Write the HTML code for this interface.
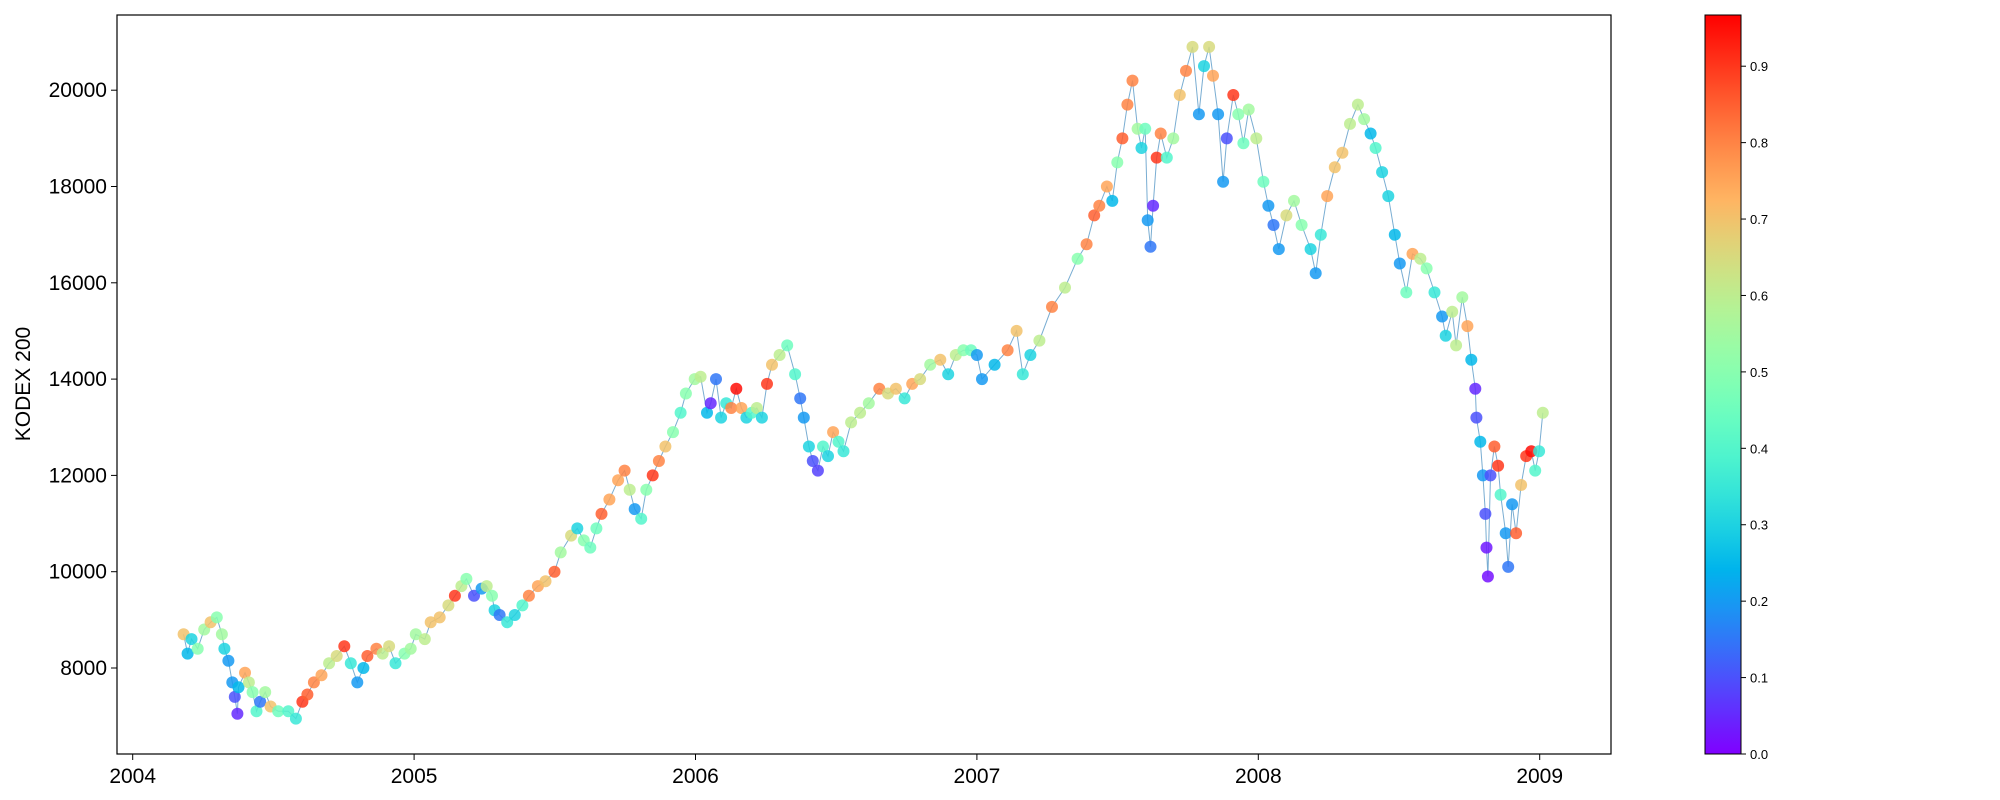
<!DOCTYPE html>
<html><head><meta charset="utf-8"><style>
body{margin:0;background:#fff;}
svg{display:block;font-family:"Liberation Sans",sans-serif;}
</style></head><body>
<svg id="chart" width="2000" height="800" viewBox="0 0 2000 800">
<defs><linearGradient id="cbg" x1="0" y1="1" x2="0" y2="0"></linearGradient></defs>
<g id="axes"></g>
<g id="cbar"></g>
<text transform="translate(30,384) rotate(-90)" text-anchor="middle" font-size="21">KODEX 200</text>
</svg>
<script>
const dates=[2004.181,2004.195,2004.209,2004.231,2004.254,2004.277,2004.299,2004.317,2004.326,2004.340,2004.354,2004.363,2004.372,2004.376,2004.399,2004.413,2004.426,2004.440,2004.453,2004.471,2004.490,2004.517,2004.553,2004.580,2004.603,2004.621,2004.644,2004.671,2004.698,2004.725,2004.752,2004.775,2004.798,2004.820,2004.834,2004.866,2004.888,2004.911,2004.934,2004.966,2004.988,2005.006,2005.038,
2005.059,2005.091,2005.122,2005.145,2005.168,2005.186,2005.213,2005.240,2005.258,2005.277,2005.286,2005.304,2005.331,2005.358,2005.385,2005.408,2005.440,2005.467,2005.499,2005.521,2005.558,2005.580,2005.603,2005.626,2005.648,2005.666,2005.694,2005.725,2005.748,2005.766,2005.784,2005.807,2005.825,2005.848,2005.870,2005.893,2005.920,2005.947,2005.966,2005.997,
2006.018,2006.041,2006.054,2006.073,2006.091,2006.109,2006.127,2006.145,2006.163,2006.181,2006.200,2006.218,2006.236,2006.254,2006.272,2006.299,2006.326,2006.354,2006.372,2006.385,2006.403,2006.417,2006.435,2006.453,2006.471,2006.489,2006.508,2006.526,2006.553,2006.585,2006.616,2006.653,2006.684,2006.712,2006.743,2006.770,2006.798,2006.834,2006.870,2006.898,2006.925,2006.952,2006.979,
2007.000,2007.018,2007.063,2007.109,2007.141,2007.163,2007.190,2007.222,2007.267,2007.313,2007.358,2007.390,2007.417,2007.435,2007.462,2007.481,2007.499,2007.517,2007.535,2007.553,2007.571,2007.585,2007.598,2007.607,2007.617,2007.626,2007.639,2007.653,2007.675,2007.698,2007.721,2007.743,2007.766,2007.789,2007.807,2007.825,2007.839,2007.857,2007.875,2007.888,2007.911,2007.929,2007.947,2007.966,2007.993,
2008.018,2008.036,2008.054,2008.073,2008.100,2008.127,2008.154,2008.186,2008.204,2008.222,2008.245,2008.272,2008.299,2008.326,2008.354,2008.376,2008.399,2008.417,2008.440,2008.462,2008.485,2008.503,2008.526,2008.548,2008.576,2008.598,2008.626,2008.653,2008.666,2008.689,2008.703,2008.725,2008.743,2008.757,2008.771,2008.775,2008.789,2008.798,2008.807,2008.811,2008.816,2008.825,2008.839,2008.852,2008.861,2008.879,2008.888,2008.902,2008.916,2008.934,2008.952,2008.970,2008.984,2008.998,2009.011];
const prices=[8700,8300,8600,8400,8800,8950,9050,8700,8400,8150,7700,7400,7050,7600,7900,7700,7500,7100,7300,7500,7200,7100,7100,6950,7300,7450,7700,7850,8100,8250,8450,8100,7700,8000,8250,8400,8300,8450,8100,8300,8400,8700,8600,
8950,9050,9300,9500,9700,9850,9500,9650,9700,9500,9200,9100,8950,9100,9300,9500,9700,9800,10000,10400,10750,10900,10650,10500,10900,11200,11500,11900,12100,11700,11300,11100,11700,12000,12300,12600,12900,13300,13700,14000,
14050,13300,13500,14000,13200,13500,13400,13800,13400,13200,13300,13400,13200,13900,14300,14500,14700,14100,13600,13200,12600,12300,12100,12600,12400,12900,12700,12500,13100,13300,13500,13800,13700,13800,13600,13900,14000,14300,14400,14100,14500,14600,14600,
14500,14000,14300,14600,15000,14100,14500,14800,15500,15900,16500,16800,17400,17600,18000,17700,18500,19000,19700,20200,19200,18800,19200,17300,16750,17600,18600,19100,18600,19000,19900,20400,20900,19500,20500,20900,20300,19500,18100,19000,19900,19500,18900,19600,19000,
18100,17600,17200,16700,17400,17700,17200,16700,16200,17000,17800,18400,18700,19300,19700,19400,19100,18800,18300,17800,17000,16400,15800,16600,16500,16300,15800,15300,14900,15400,14700,15700,15100,14400,13800,13200,12700,12000,11200,10500,9900,12000,12600,12200,11600,10800,10100,11400,10800,11800,12400,12500,12100,12500,13300];
const cvals=[0.7,0.25,0.3,0.5,0.55,0.7,0.5,0.55,0.3,0.2,0.2,0.1,0.05,0.25,0.75,0.6,0.5,0.4,0.15,0.55,0.7,0.45,0.4,0.35,0.9,0.85,0.8,0.75,0.6,0.65,0.9,0.35,0.2,0.25,0.85,0.8,0.6,0.65,0.35,0.5,0.55,0.55,0.6,
0.7,0.7,0.65,0.9,0.6,0.5,0.1,0.2,0.6,0.5,0.3,0.15,0.35,0.3,0.4,0.8,0.75,0.7,0.85,0.55,0.65,0.3,0.5,0.45,0.45,0.85,0.75,0.75,0.8,0.6,0.2,0.4,0.5,0.9,0.8,0.7,0.5,0.4,0.5,0.55,
0.6,0.25,0.05,0.15,0.3,0.35,0.8,0.95,0.75,0.3,0.4,0.6,0.3,0.9,0.7,0.6,0.45,0.4,0.15,0.2,0.3,0.1,0.08,0.4,0.3,0.75,0.4,0.35,0.6,0.6,0.55,0.8,0.65,0.7,0.35,0.75,0.65,0.55,0.7,0.3,0.6,0.5,0.45,
0.2,0.2,0.25,0.8,0.7,0.35,0.3,0.6,0.8,0.6,0.5,0.8,0.85,0.8,0.75,0.25,0.5,0.85,0.8,0.8,0.55,0.3,0.45,0.2,0.15,0.05,0.9,0.8,0.4,0.55,0.7,0.8,0.65,0.2,0.3,0.65,0.75,0.2,0.2,0.1,0.9,0.5,0.45,0.55,0.6,
0.45,0.2,0.15,0.2,0.65,0.55,0.5,0.3,0.2,0.35,0.75,0.7,0.7,0.6,0.6,0.55,0.25,0.4,0.3,0.3,0.25,0.2,0.45,0.75,0.6,0.5,0.35,0.2,0.3,0.6,0.6,0.55,0.75,0.25,0.05,0.1,0.25,0.2,0.1,0.03,0.02,0.1,0.85,0.9,0.4,0.2,0.15,0.2,0.85,0.7,0.9,0.95,0.4,0.35,0.6];
const yTicks=[8000,10000,12000,14000,16000,18000,20000];
const xTicks=[2004,2005,2006,2007,2008,2009];
const cTicks=[0.0,0.1,0.2,0.3,0.4,0.5,0.6,0.7,0.8,0.9];

const NS="http://www.w3.org/2000/svg";
const L=117,R=1611,T=15,B=754;
const xS=yr=>132.7+(yr-2004)*281.4;
const yS=v=>668-(v-8000)*0.04815;
const cMin=0,cMax=0.967;
const cS=v=>754-(v-cMin)/(cMax-cMin)*739;
function rainbow(x){
  const c=t=>Math.round(Math.max(0,Math.min(1,t))*255);
  return `rgb(${c(Math.abs(2*x-0.5))},${c(Math.sin(Math.PI*x))},${c(Math.cos(Math.PI*x/2))})`;
}
function mk(tag,attrs,parent){const e=document.createElementNS(NS,tag);for(const k in attrs)e.setAttribute(k,attrs[k]);parent.appendChild(e);return e;}
const ax=document.getElementById('axes');
let d='';dates.forEach((t,i)=>{d+=(i?'L':'M')+xS(t).toFixed(1)+','+yS(prices[i]).toFixed(1);});
const ln=mk('path',{d:d,fill:'none',stroke:'#1f77b4','stroke-width':1,opacity:0.6},ax);


dates.forEach((t,i)=>{
  const c=mk('circle',{cx:xS(t).toFixed(1),cy:yS(prices[i]).toFixed(1),r:6,fill:rainbow(cvals[i]/cMax),'fill-opacity':0.85},ax);
  
  
});
const fr=mk('rect',{x:L,y:T,width:R-L,height:B-T,fill:'none',stroke:'#000','stroke-width':1.2},ax);


yTicks.forEach(v=>{
  const y=yS(v);
  const tk=mk('line',{x1:L-6,x2:L,y1:y,y2:y,stroke:'#000'},ax);
  
  
  const tx=mk('text',{x:L-10,y:y+7,'text-anchor':'end','font-size':21},ax);tx.textContent=v;
  
  
});
xTicks.forEach(v=>{
  const x=xS(v);
  const tk=mk('line',{x1:x,x2:x,y1:B,y2:B+6,stroke:'#000'},ax);
  
  
  const tx=mk('text',{x:x,y:B+29,'text-anchor':'middle','font-size':21},ax);tx.textContent=v;
  
  
});
const cb=document.getElementById('cbar');
const g=document.getElementById('cbg');
for(let i=0;i<=20;i++){mk('stop',{offset:(i/20),'stop-color':rainbow(i/20)},g);}
const cr=mk('rect',{x:1705,y:15,width:36,height:739,fill:'url(#cbg)',stroke:'#000','stroke-width':1},cb);


cTicks.forEach(v=>{
  const y=cS(v);
  mk('line',{x1:1741,x2:1746,y1:y,y2:y,stroke:'#000'},cb);
  const tx=mk('text',{x:1750,y:y+5,'font-size':13},cb);tx.textContent=v.toFixed(1);
  
  
});
</script>
</body></html>
